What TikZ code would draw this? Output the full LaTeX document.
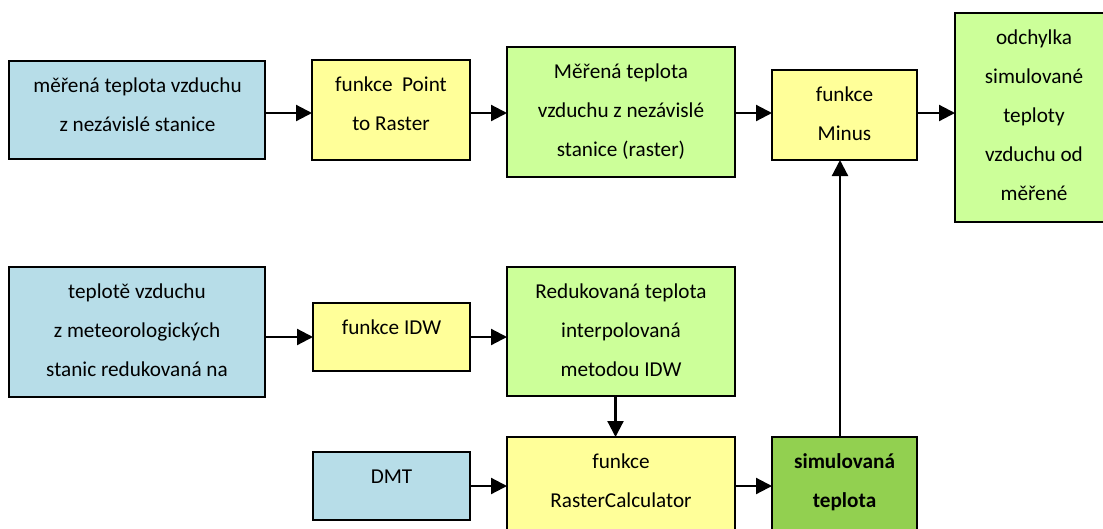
\documentclass[tikz,border=0pt]{standalone}
\usepackage{fontspec}
\setmainfont{Carlito}
\usetikzlibrary{arrows.meta}
\definecolor{cblue}{HTML}{B7DDE8}
\definecolor{cyellow}{HTML}{FFFF99}
\definecolor{cgreen}{HTML}{CCFF99}
\definecolor{cdark}{HTML}{92D050}
\newcommand\mylines[2]{\parbox[t]{#1}{\centering #2}}
\begin{document}
\begin{tikzpicture}[x=1pt,y=-1pt,
  box/.style={draw=black, line width=2pt, anchor=north west, inner sep=0pt, outer sep=0pt},
  txt/.style={anchor=base, inner sep=0pt, font=\fontsize{21.2}{39}\selectfont},
  arr/.style={line width=2.2pt, -{Triangle[length=16pt,width=16pt]}}]
\useasboundingbox (0,0) rectangle (1103,528);
\clip (0,0) rectangle (1103,528);
% boxes
\node[box, fill=cblue,   minimum width=256pt, minimum height=98pt]  (A) at (9,61) {};
\node[box, fill=cyellow, minimum width=158pt, minimum height=100pt] (B) at (312,60) {};
\node[box, fill=cgreen,  minimum width=228pt, minimum height=130pt] (C) at (507,47) {};
\node[box, fill=cyellow, minimum width=145pt, minimum height=90pt]  (D) at (772,70) {};
\node[box, fill=cgreen,  minimum width=158pt, minimum height=209pt] (E) at (955,13) {};
\node[box, fill=cblue,   minimum width=256pt, minimum height=130pt] (F) at (9,267) {};
\node[box, fill=cyellow, minimum width=157pt, minimum height=68pt]  (G) at (313,303) {};
\node[box, fill=cgreen,  minimum width=228pt, minimum height=129pt] (H) at (507,267) {};
\node[box, fill=cblue,   minimum width=157pt, minimum height=68pt]  (I) at (313,452) {};
\node[box, fill=cyellow, minimum width=228pt, minimum height=120pt] (J) at (507,437) {};
\node[box, fill=cdark,   minimum width=145pt, minimum height=120pt] (K) at (772,437) {};
% texts
\node[txt] (At) at (137.5,92)  {\mylines{256pt}{měřená teplota vzduchu\\z nezávislé stanice}};
\node[txt] (Bt) at (391,91)    {\mylines{158pt}{funkce\ \ Point\\to Raster}};
\node[txt] (Ct) at (621,78)    {\mylines{228pt}{Měřená teplota\\vzduchu z nezávislé\\stanice (raster)}};
\node[txt] (Dt) at (844.5,101) {\mylines{145pt}{funkce\\Minus}};
\node[txt] (Et) at (1034,44)   {\mylines{158pt}{odchylka\\simulované\\teploty\\vzduchu od\\měřené}};
\node[txt] (Ft) at (137,298)   {\mylines{256pt}{teplotě vzduchu\\z meteorologických\\stanic redukovaná na}};
\node[txt] (Gt) at (391.5,334) {\mylines{157pt}{funkce IDW}};
\node[txt] (Ht) at (621,298)   {\mylines{228pt}{Redukovaná teplota\\interpolovaná\\metodou IDW}};
\node[txt] (It) at (391.5,483) {\mylines{157pt}{DMT}};
\node[txt] (Jt) at (621,468)   {\mylines{228pt}{funkce\\RasterCalculator}};
\node[txt] (Kt) at (844.5,468) {\mylines{145pt}{\bfseries simulovaná\\teplota}};
% connector start points
\coordinate (ab) at ([yshift=-3pt]A.east);
\coordinate (bc) at ([yshift=-3pt]B.east);
\coordinate (cd) at ([yshift=-1pt]C.east);
\coordinate (de) at ([yshift=2pt]D.east);
\coordinate (fg) at (F.east |- G.west);
\coordinate (hj) at ([xshift=-5.5pt]H.south);
\coordinate (kd) at ([xshift=-4.5pt]K.north);
% connectors
\draw[arr] (ab) -- (ab -| B.west);
\draw[arr] (bc) -- (bc -| C.west);
\draw[arr] (cd) -- (cd -| D.west);
\draw[arr] (de) -- (de -| E.west);
\draw[arr] (fg) -- (G.west);
\draw[arr] (G.east) -- (G.east -| H.west);
\draw[arr] (hj) -- (hj |- J.north);
\draw[arr] (I.east) -- (I.east -| J.west);
\draw[arr] (I.east -| J.east) -- (I.east -| K.west);
\draw[arr] (kd) -- (kd |- D.south);
\end{tikzpicture}
\end{document}
